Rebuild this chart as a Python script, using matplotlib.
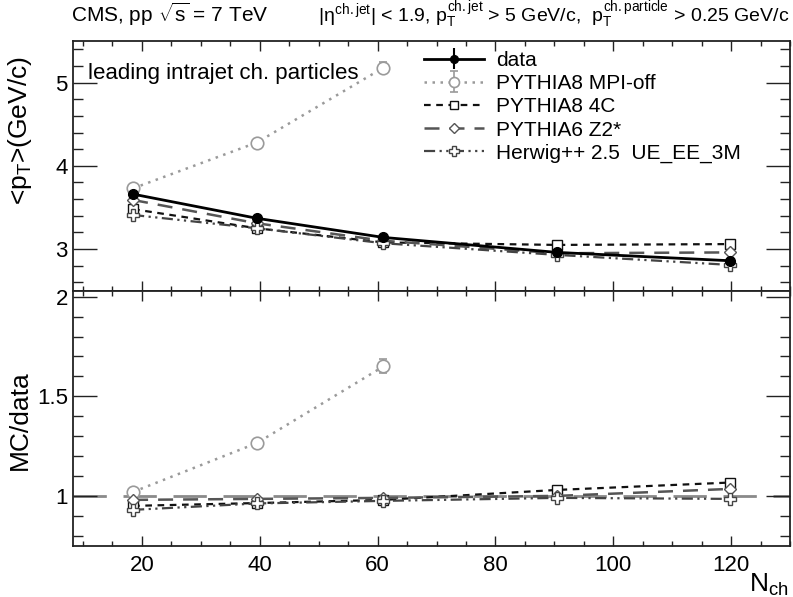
import matplotlib
matplotlib.use("Agg")
import matplotlib.pyplot as plt
from matplotlib.ticker import MultipleLocator

plt.rcParams['font.family'] = ['Liberation Sans', 'DejaVu Sans']
plt.rcParams['mathtext.fontset'] = 'custom'
plt.rcParams['mathtext.rm'] = 'Liberation Sans'
plt.rcParams['mathtext.it'] = 'Liberation Sans'
plt.rcParams['mathtext.bf'] = 'Liberation Sans:bold'

# ---- data ----
nch = [18.5, 39.5, 61.0, 90.5, 119.8]
data_pt = [3.66, 3.37, 3.14, 2.96, 2.86]
data_err = [0.02, 0.015, 0.015, 0.02, 0.025]

mpioff_nch = [18.5, 39.5, 61.0]
mpioff_pt = [3.73, 4.28, 5.18]
mpioff_err = [0.01, 0.02, 0.07]

p8_4c_pt = [3.48, 3.25, 3.08, 3.05, 3.06]
p6_z2_pt = [3.59, 3.31, 3.10, 2.95, 2.96]
herwig_pt = [3.41, 3.25, 3.07, 2.93, 2.81]

mpioff_ratio = [1.02, 1.265, 1.65]
mpioff_ratio_err = [0.01, 0.01, 0.035]
p8_4c_ratio = [0.95, 0.964, 0.98, 1.03, 1.067]
p6_z2_ratio = [0.98, 0.985, 0.99, 1.0, 1.035]
herwig_ratio = [0.93, 0.962, 0.975, 0.99, 0.985]

labels = ["data", "PYTHIA8 MPI-off", "PYTHIA8 4C", "PYTHIA6 Z2*", "Herwig++ 2.5  UE_EE_3M"]

W, H = 793, 597
fig = plt.figure(figsize=(W / 100, H / 100), dpi=100)

left, right = 73, 790
top_u, bot_u = 41, 290.7
bot_l = 545.7

ax1 = fig.add_axes([left / W, 1 - bot_u / H, (right - left) / W, (bot_u - top_u) / H])
ax2 = fig.add_axes([left / W, 1 - bot_l / H, (right - left) / W, (bot_l - bot_u) / H], sharex=ax1)

c_mpi = '#9a9a9a'
c_4c = '#111111'
c_z2 = '#555555'
c_hw = '#444444'

def style_axis(ax):
    for s in ax.spines.values():
        s.set_linewidth(1.3)
        s.set_color('#222222')
    ax.tick_params(which='both', direction='in', top=True, right=True, colors='#222222', width=1.0)
    ax.tick_params(axis='x', which='major', length=7)
    ax.tick_params(axis='x', which='minor', length=3.5)
    ax.tick_params(axis='y', which='major', length=17)
    ax.tick_params(axis='y', which='minor', length=7.5)
    ax.tick_params(labelsize=16, labelcolor='black')

# ---- upper panel ----
h_mpi = ax1.errorbar(mpioff_nch, mpioff_pt, yerr=mpioff_err, color=c_mpi, lw=1.8,
                     dashes=(1, 2.2), marker='o', ms=9, mfc='white', mec=c_mpi, mew=1.2,
                     elinewidth=1.2, capsize=3)
h_4c = ax1.errorbar(nch, p8_4c_pt, color=c_4c, lw=1.6, dashes=(3, 2.5), marker='s', ms=7,
                    mfc='white', mec=c_4c, mew=1.0)
h_z2 = ax1.errorbar(nch, p6_z2_pt, color=c_z2, lw=1.8, dashes=(6, 4), marker='D', ms=6,
                    mfc='white', mec=c_z2, mew=1.0)
h_hw = ax1.errorbar(nch, herwig_pt, color=c_hw, lw=1.6, dashes=(5, 2, 1, 2, 1, 2), marker='P', ms=9,
                    mfc='white', mec=c_hw, mew=1.0)
h_data = ax1.errorbar(nch, data_pt, yerr=data_err, color='black', lw=2.0, marker='o', ms=7,
                      mfc='black', mec='black', elinewidth=1.5, zorder=5)

ax1.set_xlim(8.3, 130)
ax1.set_ylim(2.5, 5.5)
ax1.xaxis.set_major_locator(MultipleLocator(20))
ax1.xaxis.set_minor_locator(MultipleLocator(5))
ax1.yaxis.set_major_locator(MultipleLocator(1))
ax1.yaxis.set_minor_locator(MultipleLocator(0.2))
style_axis(ax1)
ax1.tick_params(axis='x', labelbottom=False)
ax1.tick_params(axis='y', pad=4)
ax1.set_yticks([3, 4, 5])

ax1.text(88 / W, 1 - 79 / H, "leading intrajet ch. particles", transform=fig.transFigure,
         fontsize=16, ha='left', va='baseline')

leg = ax1.legend([h_data, h_mpi, h_4c, h_z2, h_hw], labels, loc='upper left',
                 bbox_to_anchor=(424 / W, 1 - 51 / H), bbox_transform=fig.transFigure,
                 frameon=False, fontsize=15, handlelength=2.9, handletextpad=0.55,
                 labelspacing=0.2, borderaxespad=0, borderpad=0, markerscale=0.8)

# ---- lower panel ----
ax2.axhline(1.0, color='#8a8a8a', lw=2.0, dashes=(12, 6), zorder=1)
ax2.errorbar(mpioff_nch, mpioff_ratio, yerr=mpioff_ratio_err, color=c_mpi, lw=1.8,
             dashes=(1, 2.2), marker='o', ms=9, mfc='white', mec=c_mpi, mew=1.2,
             elinewidth=1.2, capsize=3)
ax2.errorbar(nch, p8_4c_ratio, color=c_4c, lw=1.6, dashes=(3, 2.5), marker='s', ms=7,
             mfc='white', mec=c_4c, mew=1.0)
ax2.errorbar(nch, p6_z2_ratio, color=c_z2, lw=1.8, dashes=(6, 4), marker='D', ms=6,
             mfc='white', mec=c_z2, mew=1.0)
ax2.errorbar(nch, herwig_ratio, color=c_hw, lw=1.6, dashes=(5, 2, 1, 2, 1, 2), marker='P', ms=9,
             mfc='white', mec=c_hw, mew=1.0)

ax2.set_ylim(0.75, 2.03)
ax2.yaxis.set_major_locator(MultipleLocator(0.5))
ax2.yaxis.set_minor_locator(MultipleLocator(0.1))
style_axis(ax2)
ax2.set_yticks([1, 1.5, 2])
ax2.set_yticklabels(["1", "1.5", "2"])
ax2.tick_params(axis='x', pad=7)

# ---- texts ----
fig.text(20 / W, 1 - 130 / H, r"<p$_{\rm T}$>(GeV/c)", rotation=90, fontsize=19,
         ha='center', va='center')
fig.text(20 / W, 1 - 420 / H, "MC/data", rotation=90, fontsize=19, ha='center', va='center')
fig.text(789 / W, 1 - 592 / H, r"N$_{\rm ch}$", fontsize=19, ha='right', va='baseline')

fig.text(71 / W, 1 - 22 / H, r"CMS, pp $\sqrt{\rm s}$ = 7 TeV", fontsize=15, ha='left', va='baseline')
fig.text(789 / W, 1 - 22 / H,
         r"$|\eta^{\rm ch.jet}|$ < 1.9, $p_{\rm T}^{\rm ch.jet}$ > 5 GeV/c,  $p_{\rm T}^{\rm ch.particle}$ > 0.25 GeV/c",
         fontsize=14, ha='right', va='baseline')

fig.savefig("out.png", dpi=100)
